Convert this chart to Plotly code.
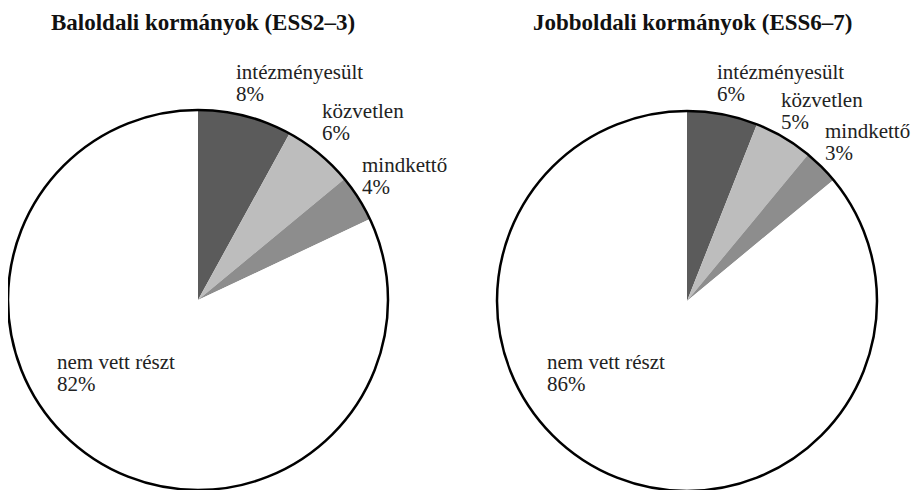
import plotly.graph_objects as go

# data
labels = ["intézményesült", "közvetlen", "mindkettő", "nem vett részt"]
left_values = [8, 6, 4, 82]
right_values = [6, 5, 3, 86]
titles = ["Baloldali kormányok (ESS2–3)", "Jobboldali kormányok (ESS6–7)"]
colors = ["#5b5b5b", "#bdbdbd", "#8d8d8d", "#ffffff"]

W, H = 922, 490
SHIFT = 8  # page body margin
R = 190
centers = [(198 - SHIFT, 300 - SHIFT), (687 - SHIFT, 301 - SHIFT)]
# label offsets from the pie centre, in pixels (left edge, first line centre)
offsets = [
    [(39, -228), (125, -189), (165, -135), (-140, 62)],
    [(31, -229), (95, -201), (139, -170), (-139, 61)],
]
title_pos = [(203 - SHIFT, 22 - SHIFT), (693 - SHIFT, 22 - SHIFT)]

font = "Liberation Serif"
fig = go.Figure()
annotations = []

for i, vals in enumerate([left_values, right_values]):
    cx, cy = centers[i]
    dom = dict(x=[(cx - R) / W, (cx + R) / W], y=[(H - cy - R) / H, (H - cy + R) / H])
    fig.add_trace(go.Pie(
        labels=labels, values=vals, sort=False, direction="clockwise", rotation=0,
        marker=dict(colors=colors, line=dict(width=0)), textinfo="none",
        hoverinfo="label+percent", domain=dom, showlegend=False,
    ))
    # outline of the whole pie
    fig.add_trace(go.Pie(
        labels=["all"], values=[1], textinfo="none", hoverinfo="skip",
        marker=dict(colors=["rgba(0,0,0,0)"], line=dict(color="black", width=2.5)),
        domain=dom, showlegend=False,
    ))
    for lab, v, (dx, dy) in zip(labels, vals, offsets[i]):
        for k, line in enumerate([lab, f"{v}%"]):
            annotations.append(dict(
                x=(cx + dx - 3) / W, y=1 - (cy + dy + 22 * k) / H, xref="paper", yref="paper",
                text=line, showarrow=False, xanchor="left", yanchor="middle",
                font=dict(family=font, size=21, color="#222"),
            ))
    tx, ty = title_pos[i]
    annotations.append(dict(
        x=tx / W, y=1 - ty / H, xref="paper", yref="paper", text=f"<b>{titles[i]}</b>",
        showarrow=False, xanchor="center", yanchor="middle",
        font=dict(family=font, size=23, color="#111"),
    ))

fig.update_layout(
    width=W, height=H, margin=dict(l=0, r=0, t=0, b=0),
    paper_bgcolor="white", plot_bgcolor="white", annotations=annotations,
)

fig.write_html("out.html")
